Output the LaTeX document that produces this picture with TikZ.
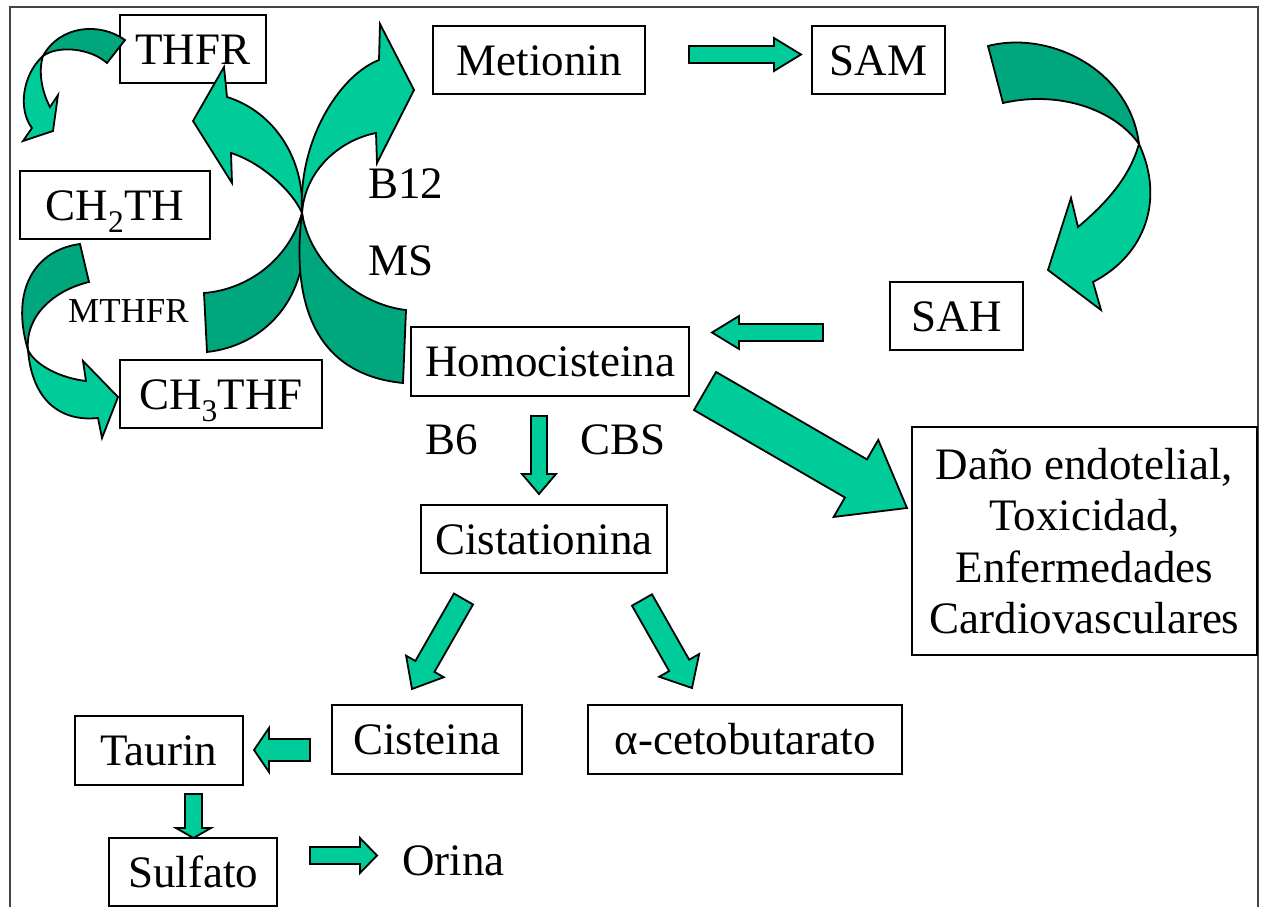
\documentclass[tikz,border=0pt]{standalone}
\usepackage{fontspec}
\setmainfont{Liberation Serif}
\usetikzlibrary{calc}
\definecolor{mint}{RGB}{0,204,153}
\definecolor{mintdark}{RGB}{0,166,124}
\definecolor{framegray}{RGB}{68,68,68}
\tikzset{
  box/.style={draw, line width=1.6pt, inner sep=0pt, text height=30pt, text depth=0pt, minimum height=68pt},
  band/.style={draw, line width=1.8pt, line join=miter, fill=mint},
  backband/.style={band, fill=mintdark},
  lbl/.style={anchor=base west, inner sep=0pt},
}
% name, tail, tip, half shaft, half head, head length
\newcommand{\blockarr}[6]{%
  \coordinate (#1-t) at (#2);
  \coordinate (#1-p) at (#3);
  \coordinate (#1-h) at ($(#1-p)!#6!(#1-t)$);
  \draw[band] ($(#1-t)!#4!90:(#1-p)$) -- ($(#1-h)!#4!90:(#1-p)$) -- ($(#1-h)!#5!90:(#1-p)$)
    -- (#1-p) -- ($(#1-h)!#5!-90:(#1-p)$) -- ($(#1-h)!#4!-90:(#1-p)$) -- ($(#1-t)!#4!-90:(#1-p)$) -- cycle;
}
\begin{document}
\begin{tikzpicture}[x=1pt,y=-1pt,every node/.append style={font=\fontsize{45}{51.3}\selectfont}]
\useasboundingbox (0,0) rectangle (1261,907);
\draw[framegray, line width=2pt] (10,907) -- (10,7) -- (1258,7) -- (1258,907);
%=======boxes=============
\node[box, minimum width=146pt] (thfr) at (193,49) {THFR};
\node[box, minimum width=212pt] (metionin) at (539,60) {Metionin};
\node[box, minimum width=133pt] (sam) at (878.5,60) {SAM};
\node[box, minimum width=190pt] (ch2th) at (115,205) {CH\textsubscript{2}TH};
\node[box, minimum width=202pt] (ch3thf) at (221,394) {CH\textsubscript{3}THF};
\node[box, minimum width=133pt] (sah) at (956.5,316) {SAH};
\node[box, minimum width=278pt, minimum height=69pt] (homo) at (550,361.5) {Homocisteina};
\node[box, minimum width=246pt] (cist) at (544,539) {Cistationina};
\node[draw, line width=1.6pt, align=center, inner sep=0pt, minimum width=345pt, minimum height=228pt] (dano)
  at (1084.5,541) {Daño endotelial,\\Toxicidad,\\Enfermedades\\Cardiovasculares};
\node[box, minimum width=190pt, minimum height=69pt] (cisteina) at (427,739.5) {Cisteina};
\node[box, minimum width=314pt, minimum height=69pt] (ceto) at (745,739.5) {α-cetobutarato};
\node[box, minimum width=168pt, minimum height=69pt] (taurin) at (159,750.5) {Taurin};
\node[box, minimum width=168pt] (sulfato) at (193,872) {Sulfato};
%=======labels=============
\node[lbl] (b12) at (368,198) {B12};
\node[lbl] (ms) at (368,275) {MS};
\node[lbl, font=\fontsize{35}{40}\selectfont] (mthfr) at (68,322) {MTHFR};
\node[lbl] (b6) at (425,454) {B6};
\node[lbl] (cbs) at (580,454) {CBS};
\node[lbl] (orina) at (402,875) {Orina};
%=======curved arrows=============
\draw[backband] (125,40) .. controls (100,22) and (60,25) .. (43,56)
  .. controls (58,45) and (90,48) .. (107,63) -- cycle;
\draw[band] (43,56) .. controls (22,75) and (18,110) .. (32,128) -- (23,141) -- (53,131) -- (58,95)
  -- (50,107) .. controls (42,92) and (38,72) .. (43,56) -- cycle;
\draw[backband] (80,244) .. controls (35,250) and (10,290) .. (28,350)
  .. controls (25,315) and (55,290) .. (89,282) -- cycle;
\draw[band] (28,350) .. controls (32,400) and (60,422) .. (98,418) -- (102,438) -- (118,397) -- (83,361)
  -- (86,381) .. controls (60,378) and (35,365) .. (28,350) -- cycle;
\draw[backband] (204,293) .. controls (245,290) and (288,262) .. (302,213)
  .. controls (315,290) and (270,345) .. (207,352) -- cycle;
\draw[backband] (406,310) .. controls (360,305) and (310,265) .. (302,213)
  .. controls (290,310) and (320,375) .. (403,383) -- cycle;
\draw[band] (302,213) .. controls (305,160) and (275,112) .. (227,97) -- (224,67) -- (193,121) -- (232,183)
  -- (231,153) .. controls (260,162) and (292,190) .. (302,213) -- cycle;
\draw[band] (302,213) .. controls (298,140) and (340,75) .. (379,60) -- (380,24) -- (414,90) -- (377,163)
  -- (376,133) .. controls (340,140) and (305,170) .. (302,213) -- cycle;
\draw[backband] (988,46) .. controls (1050,30) and (1130,70) .. (1139,144)
  .. controls (1115,110) and (1060,90) .. (1003,103) -- cycle;
\draw[band] (1139,144) .. controls (1165,200) and (1145,255) .. (1093,282) -- (1101,310) -- (1048,270) -- (1071,198)
  -- (1078,227) .. controls (1110,200) and (1130,175) .. (1139,144) -- cycle;
%=======block arrows=============
\blockarr{a1}{689,54.5}{801,54.5}{8.5pt}{16.5pt}{27pt}
\blockarr{a2}{823,332.5}{712,332.5}{8.5pt}{16.5pt}{27pt}
\blockarr{a3}{539,416}{539,494}{8pt}{17pt}{20pt}
\blockarr{a4}{705,391}{907,508}{22pt}{44.5pt}{59pt}
\blockarr{a5}{463.5,599}{412,689}{11pt}{21.7pt}{26pt}
\blockarr{a6}{642,600}{692,688}{11.5pt}{23pt}{26pt}
\blockarr{a7}{310,750}{254,750}{11pt}{22pt}{15pt}
\blockarr{a8}{193.5,794}{193.5,838}{8.5pt}{17.5pt}{10pt}
\blockarr{a9}{310,855.5}{377,855.5}{8.5pt}{17.5pt}{17pt}
\end{tikzpicture}
\end{document}
